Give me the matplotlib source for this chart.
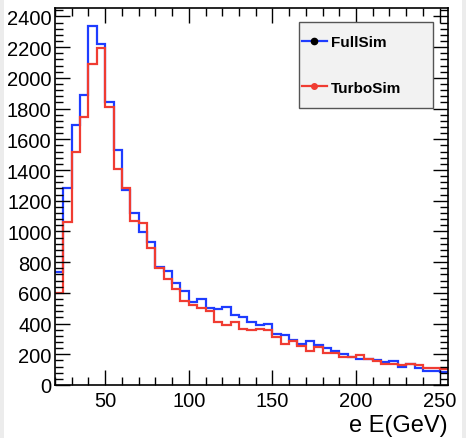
import numpy as np
import matplotlib
matplotlib.use('Agg')
import matplotlib.pyplot as plt
from matplotlib.lines import Line2D
from matplotlib.patches import Rectangle
from matplotlib.ticker import MultipleLocator

plt.rcParams['font.family'] = ['Liberation Sans', 'DejaVu Sans']

# 5 GeV bins from 20 to 255 GeV
bin_edges = np.arange(20, 256, 5)

full_sim = [735, 1284, 1692, 1889, 2335, 2221, 1843, 1532, 1273, 1122,
            999, 932, 766, 744, 662, 615, 539, 561, 503, 496,
            507, 459, 446, 410, 388, 395, 335, 328, 293, 267,
            284, 258, 240, 224, 205, 183, 172, 168, 161, 151,
            157, 118, 135, 108, 92, 92, 82]
turbo_sim = [596, 1062, 1517, 1746, 2089, 2195, 1813, 1407, 1282, 1068,
             1053, 889, 762, 690, 626, 550, 518, 503, 485, 410,
             388, 410, 362, 356, 367, 356, 310, 265, 287, 255,
             222, 248, 211, 211, 183, 183, 194, 172, 157, 140,
             140, 129, 140, 129, 110, 108, 103]

blue = '#1e3cff'
red = '#f03c32'

fig = plt.figure(figsize=(4.66, 4.39), dpi=100)
fig.patch.set_facecolor('#ececec')
fig.patches.append(Rectangle((4 / 466, 0), 458 / 466, 1, transform=fig.transFigure,
                             facecolor='white', edgecolor='none', zorder=-10))

ax = fig.add_axes([55 / 466, 1 - 386 / 439, 393 / 466, 377 / 439])
ax.set_zorder(1)
ax.stairs(full_sim, bin_edges, baseline=None, color=blue, lw=1.6)
ax.stairs(turbo_sim, bin_edges, baseline=None, color=red, lw=1.6)

ax.set_xlim(20, 255)
ax.set_ylim(0, 2455)
ax.xaxis.set_major_locator(MultipleLocator(50))
ax.xaxis.set_minor_locator(MultipleLocator(10))
ax.yaxis.set_major_locator(MultipleLocator(200))
ax.yaxis.set_minor_locator(MultipleLocator(40))
ax.tick_params(which='both', direction='in', top=True, right=True, width=1)
ax.tick_params(which='major', length=11)
ax.tick_params(which='minor', length=6)
ax.tick_params(axis='y', labelsize=14.5, pad=2.5)
ax.tick_params(axis='x', labelsize=14.5, pad=4)
for sp in ax.spines.values():
    sp.set_linewidth(1.2)

ax.text(1.0, -0.106, 'e E(GeV)', transform=ax.transAxes, ha='right', va='center',
        fontsize=17)

# legend box drawn separately (ROOT style TLegend)
ax.add_patch(Rectangle((0.621, 0.735), 0.341, 0.228, transform=ax.transAxes,
                       facecolor='#f2f2f2', edgecolor='#555555', lw=1.0, zorder=4))
handles = [Line2D([], [], color=blue, lw=1.6, marker='o', markersize=4.5,
                  markerfacecolor='black', markeredgecolor='black'),
           Line2D([], [], color=red, lw=1.6, marker='o', markersize=4,
                  markerfacecolor=red, markeredgecolor=red)]
leg = ax.legend(handles, ['FullSim', 'TurboSim'], loc='center left',
                bbox_to_anchor=(0.621, 0.849), frameon=False,
                prop={'weight': 'bold', 'size': 11},
                labelspacing=2.05, borderpad=0.2, handlelength=1.6,
                handletextpad=0.3, borderaxespad=0)
leg.set_zorder(5)

fig.savefig('out.png', dpi=100)
